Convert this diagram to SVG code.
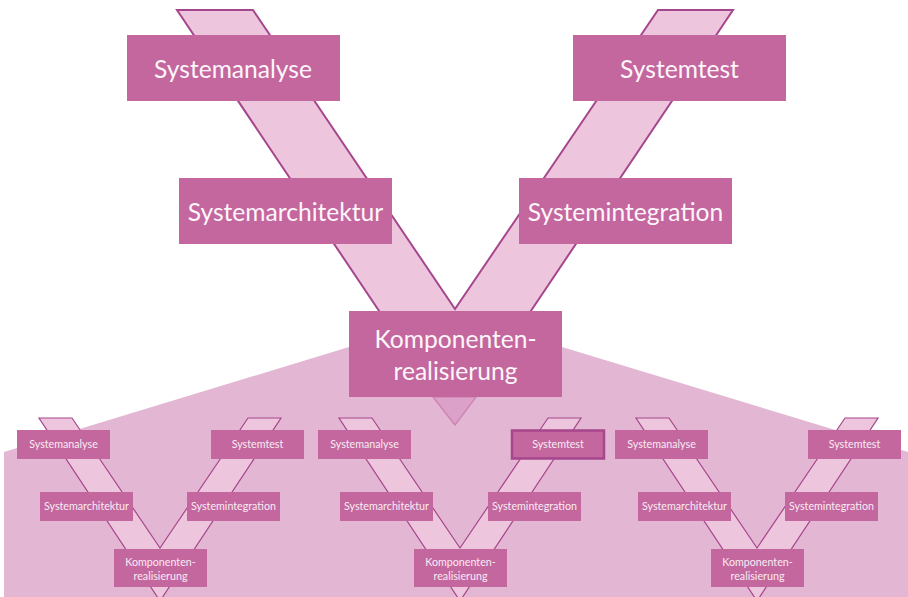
<svg xmlns="http://www.w3.org/2000/svg" width="908" height="597" viewBox="0 0 908 597">
  <style>
    .box { fill: #c4679f; }
    .hl { fill: #c4679f; stroke: #a6468c; stroke-width: 2.5; }
    .band { fill: #edc6de; stroke: #a6468c; stroke-width: 2; stroke-linejoin: miter; }
    .sband { fill: #edc6de; stroke: #a6468c; stroke-width: 1.2; }
    .big { font-family: Lato, "Open Sans", "Liberation Sans", sans-serif; font-size: 24.6px; fill: #fdf6fa; text-anchor: middle; }
    .small { font-family: Lato, "Open Sans", "Liberation Sans", sans-serif; font-size: 10.7px; fill: #f8ebf3; text-anchor: middle; }
  </style>
  <defs>
    <polygon id="smallV" points="39,418 72,418 160,548 248,418 281,418 160,601"/>
  </defs>

  <g id="connectors">
    <polygon class="band" points="177,10 253,10 455,309 658,10 733,10 455,424"/>
    <polygon id="zoom-area" points="4,452 349,347 562,347 908,452 908,597 4,597" fill="#e3b7d4"/>
    <polygon points="433,397 476,397 455,425" fill="#dca1c8" stroke="#cf85b6" stroke-width="1.5"/>
    <use href="#smallV" class="sband"/>
    <use href="#smallV" class="sband" transform="translate(300,0)"/>
    <use href="#smallV" class="sband" transform="translate(597,0)"/>
  </g>

  <g id="systemanalyse"><rect class="box" x="127" y="35" width="213" height="66"/><text class="big" x="233" y="78">Systemanalyse</text></g>
  <g id="systemtest"><rect class="box" x="573" y="35" width="213" height="66"/><text class="big" x="679.5" y="78">Systemtest</text></g>
  <g id="systemarchitektur"><rect class="box" x="179" y="178" width="213" height="66"/><text class="big" x="285.5" y="221">Systemarchitektur</text></g>
  <g id="systemintegration"><rect class="box" x="519" y="178" width="213" height="66"/><text class="big" x="625.5" y="221">Systemintegration</text></g>
  <g id="komponentenrealisierung"><rect class="box" x="349" y="311" width="213" height="86"/><text class="big" x="455.5" y="348">Komponenten-</text><text class="big" x="455.5" y="380">realisierung</text></g>

  <g id="v1-systemanalyse"><rect class="box" x="17" y="430" width="93" height="29"/><text class="small" x="63.5" y="448">Systemanalyse</text></g>
  <g id="v1-systemtest"><rect class="box" x="211" y="430" width="93" height="29"/><text class="small" x="257.5" y="448">Systemtest</text></g>
  <g id="v1-systemarchitektur"><rect class="box" x="40" y="492" width="93" height="29"/><text class="small" x="86.5" y="510">Systemarchitektur</text></g>
  <g id="v1-systemintegration"><rect class="box" x="187" y="492" width="93" height="29"/><text class="small" x="233.5" y="510">Systemintegration</text></g>
  <g id="v1-komponentenrealisierung"><rect class="box" x="114" y="549" width="93" height="38"/><text class="small" x="160.5" y="566">Komponenten-</text><text class="small" x="160.5" y="580">realisierung</text></g>

  <g id="v2-systemanalyse"><rect class="box" x="318" y="430" width="93" height="29"/><text class="small" x="364.5" y="448">Systemanalyse</text></g>
  <g id="v2-systemtest"><rect class="hl" x="512" y="430.5" width="92" height="28"/><text class="small" x="558" y="448">Systemtest</text></g>
  <g id="v2-systemarchitektur"><rect class="box" x="340" y="492" width="93" height="29"/><text class="small" x="386.5" y="510">Systemarchitektur</text></g>
  <g id="v2-systemintegration"><rect class="box" x="488" y="492" width="93" height="29"/><text class="small" x="534.5" y="510">Systemintegration</text></g>
  <g id="v2-komponentenrealisierung"><rect class="box" x="414" y="549" width="93" height="38"/><text class="small" x="460.5" y="566">Komponenten-</text><text class="small" x="460.5" y="580">realisierung</text></g>

  <g id="v3-systemanalyse"><rect class="box" x="615" y="430" width="93" height="29"/><text class="small" x="661.5" y="448">Systemanalyse</text></g>
  <g id="v3-systemtest"><rect class="box" x="808" y="430" width="93" height="29"/><text class="small" x="854.5" y="448">Systemtest</text></g>
  <g id="v3-systemarchitektur"><rect class="box" x="638" y="492" width="93" height="29"/><text class="small" x="684.5" y="510">Systemarchitektur</text></g>
  <g id="v3-systemintegration"><rect class="box" x="785" y="492" width="93" height="29"/><text class="small" x="831.5" y="510">Systemintegration</text></g>
  <g id="v3-komponentenrealisierung"><rect class="box" x="711" y="549" width="93" height="38"/><text class="small" x="757.5" y="566">Komponenten-</text><text class="small" x="757.5" y="580">realisierung</text></g>
</svg>
